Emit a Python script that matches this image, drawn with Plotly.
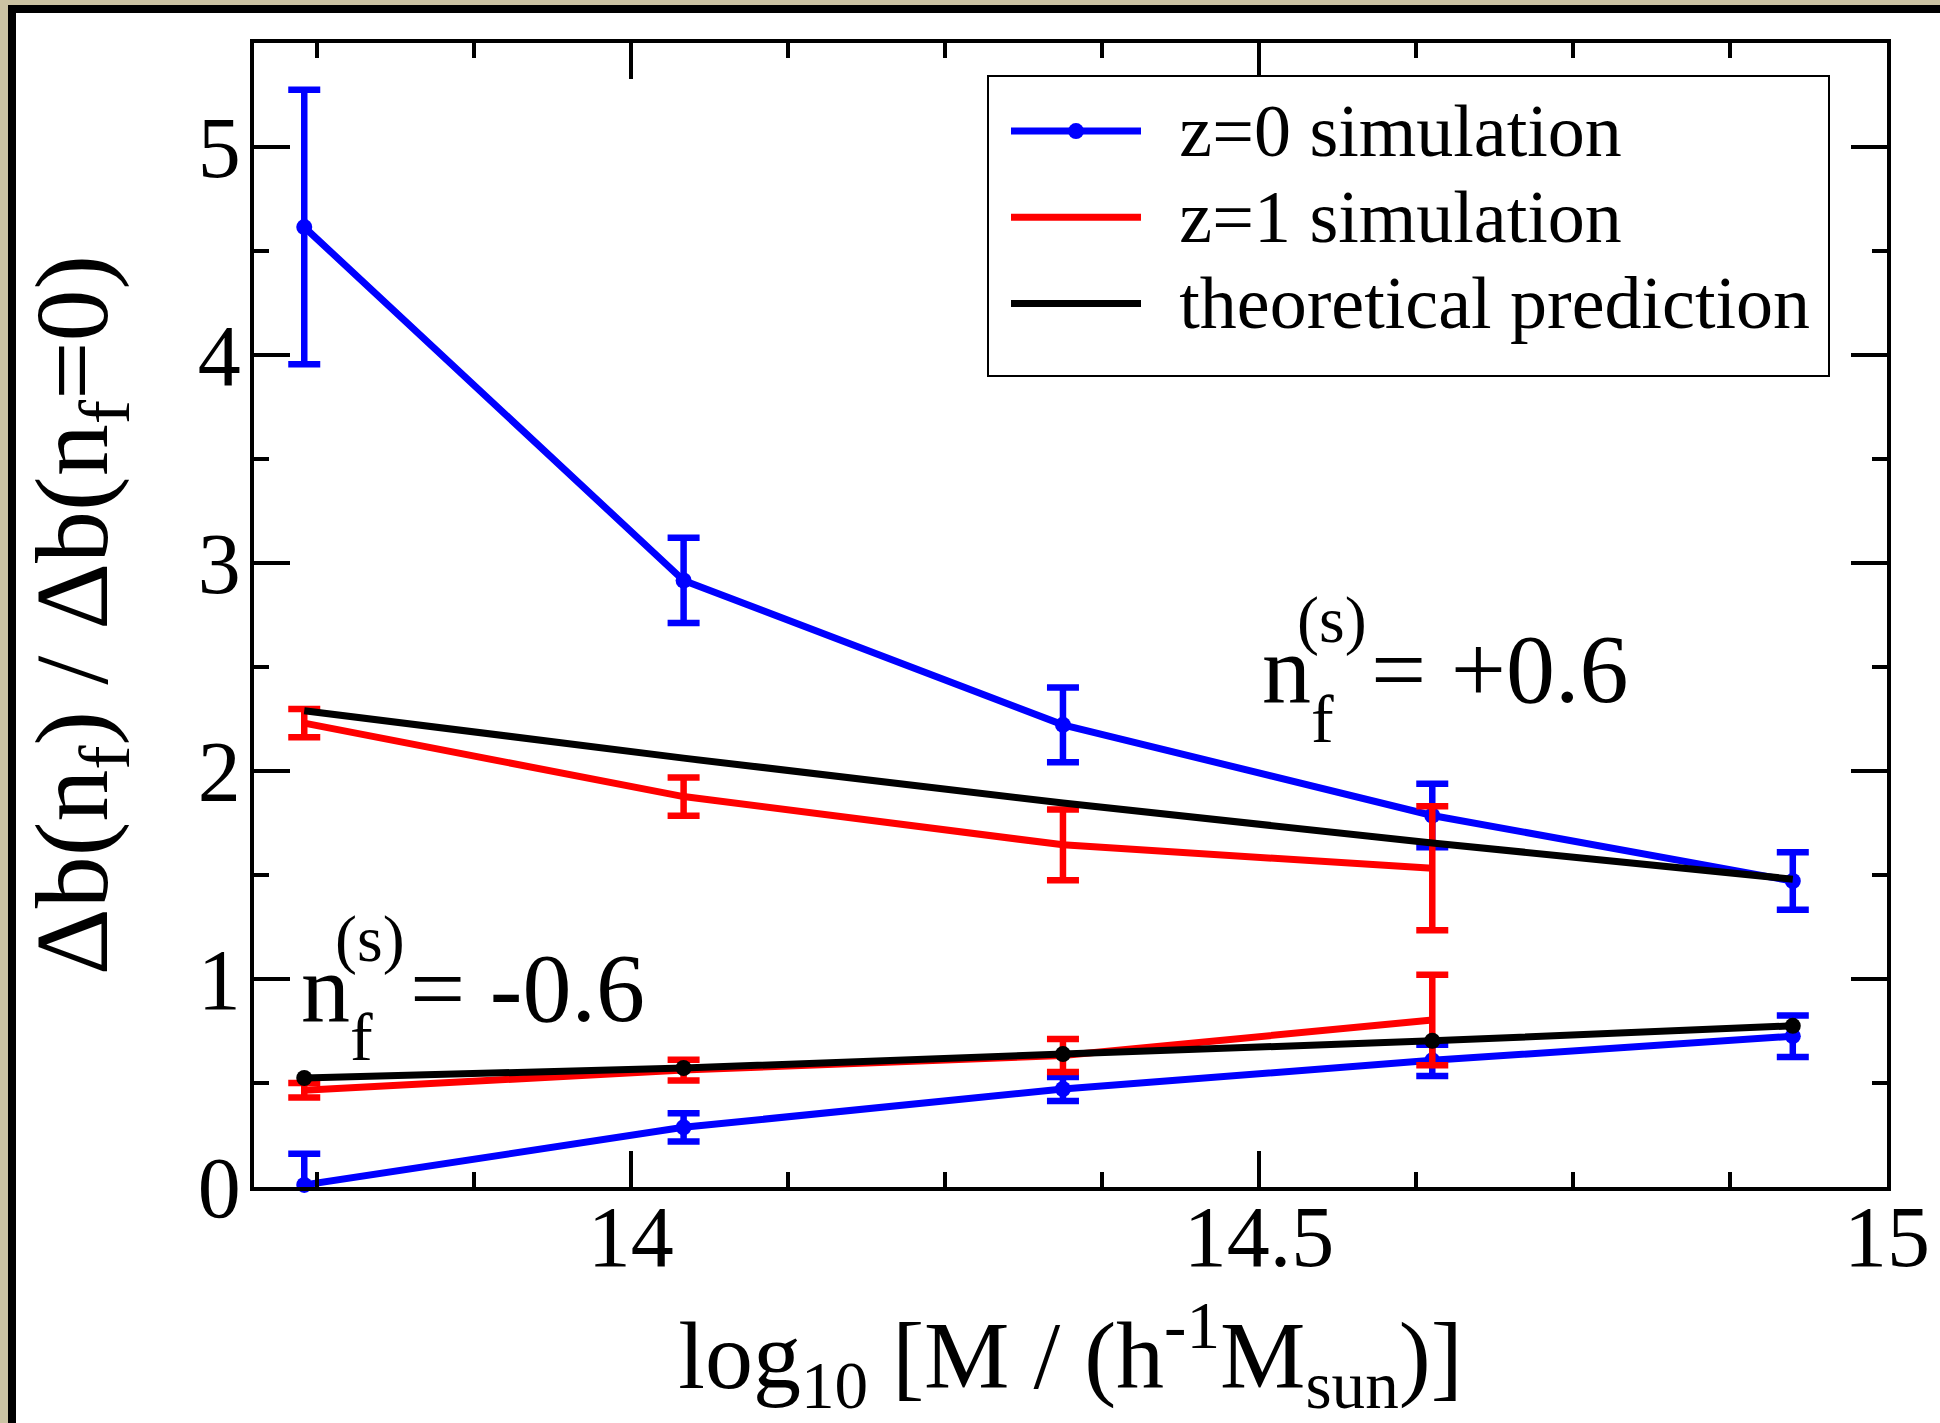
import plotly.graph_objects as go

# ---------------- data ----------------
x_mass = [13.740, 14.042, 14.344, 14.638, 14.925]
x_mass_z1 = [13.740, 14.042, 14.344, 14.638]

z0_pos = [4.615, 2.916, 2.222, 1.786, 1.471]
z0_pos_err = [0.660, 0.205, 0.180, 0.153, 0.138]
z0_neg = [0.010, 0.287, 0.471, 0.609, 0.725]
z0_neg_err = [0.150, 0.068, 0.058, 0.075, 0.100]

z1_pos = [2.230, 1.877, 1.645, 1.532]
z1_pos_err = [0.068, 0.092, 0.170, 0.298]
z1_neg = [0.465, 0.562, 0.632, 0.803]
z1_neg_err = [0.035, 0.050, 0.079, 0.218]

theory_pos = [2.290, 2.062, 1.846, 1.654, 1.480]
theory_neg = [0.524, 0.572, 0.639, 0.703, 0.775]

x_tick_vals = [14, 14.5, 15]
x_tick_text = ["14", "14.5", "15"]
y_tick_vals = [0, 1, 2, 3, 4, 5]
y_tick_text = ["0", "1", "2", "3", "4", "5"]

legend_names = ["z=0 simulation", "z=1 simulation", "theoretical prediction"]

# ---------------- layout helpers ----------------
W, H = 1940, 1423
L, R, T, B = 254, 1887, 43, 1187
FONT = "Liberation Serif"
BLUE, RED, BLACK = "#0000ff", "#ff0000", "#000000"
LW, MS = 7, 16


def px(X):
    return (X - L) / (R - L)


def py(Y):
    return (B - Y) / (B - T)


def leg(name):
    return '<span style="font-size:74px">\u00a0\u2009' + name + '</span>'


fig = go.Figure()

err_common = dict(type="data", thickness=6.5, width=16)

fig.add_trace(go.Scatter(
    x=x_mass, y=z0_pos, mode="lines+markers", name=leg(legend_names[0]),
    line=dict(color=BLUE, width=LW), marker=dict(color=BLUE, size=MS),
    error_y=dict(array=z0_pos_err, color=BLUE, **err_common),
    legendrank=1))
fig.add_trace(go.Scatter(
    x=x_mass, y=z0_neg, mode="lines+markers", name=leg(legend_names[0]),
    line=dict(color=BLUE, width=LW), marker=dict(color=BLUE, size=MS),
    error_y=dict(array=z0_neg_err, color=BLUE, **err_common),
    showlegend=False, cliponaxis=False))
fig.add_trace(go.Scatter(
    x=x_mass_z1, y=z1_pos, mode="lines", name=leg(legend_names[1]),
    line=dict(color=RED, width=LW),
    error_y=dict(array=z1_pos_err, color=RED, **err_common),
    legendrank=2))
fig.add_trace(go.Scatter(
    x=x_mass_z1, y=z1_neg, mode="lines", name=leg(legend_names[1]),
    line=dict(color=RED, width=LW),
    error_y=dict(array=z1_neg_err, color=RED, **err_common),
    showlegend=False))
fig.add_trace(go.Scatter(
    x=x_mass, y=theory_pos, mode="lines", name=leg(legend_names[2]),
    line=dict(color=BLACK, width=LW), legendrank=3))
fig.add_trace(go.Scatter(
    x=x_mass, y=theory_neg, mode="lines+markers", name=leg(legend_names[2]),
    line=dict(color=BLACK, width=LW), marker=dict(color=BLACK, size=MS),
    showlegend=False))

axis_common = dict(
    showline=True, linewidth=4, linecolor="black", mirror="allticks",
    ticks="inside", ticklen=36, tickwidth=3.5, tickcolor="black",
    showgrid=False, zeroline=False,
    tickfont=dict(family=FONT, size=86, color="black"),
)

fig.update_xaxes(
    range=[13.7, 15], tickmode="array", tickvals=x_tick_vals, ticktext=x_tick_text,
    minor=dict(dtick=0.125, tick0=14, ticks="inside", ticklen=15, tickwidth=3.5,
               tickcolor="black", showgrid=False),
    ticklabelstandoff=-28,
    title=dict(text="log<sub>10</sub> [M / (h<sup>-1</sup>M<sub>sun</sub>)]",
               font=dict(family=FONT, size=96, color="black"), standoff=73),
    **axis_common)
fig.update_yaxes(
    range=[0, 5.5], tickmode="array", tickvals=y_tick_vals, ticktext=y_tick_text,
    minor=dict(dtick=0.5, tick0=0, ticks="inside", ticklen=15, tickwidth=3.5,
               tickcolor="black", showgrid=False),
    ticklabelstandoff=-8,
    title=dict(text="Δb(n<sub>f</sub>) / Δb(n<sub>f</sub>=0)",
               font=dict(family=FONT, size=104, color="black"), standoff=56),
    **axis_common)

# outer white panel with black border (decoration)
fig.add_shape(type="rect", xref="paper", yref="paper",
              x0=px(12), x1=px(2000), y0=py(1500), y1=py(9),
              line=dict(color="black", width=8), fillcolor="white", layer="below")
# legend frame (decoration)
fig.add_shape(type="rect", xref="paper", yref="paper",
              x0=px(988), x1=px(1829), y0=py(376), y1=py(76),
              line=dict(color="black", width=2), fillcolor="white", layer="above")


def label(text, left, baseline, size):
    fig.add_annotation(xref="paper", yref="paper", x=px(left), y=py(baseline - 0.3375 * size),
                       xanchor="left", yanchor="middle", showarrow=False, text=text,
                       font=dict(family=FONT, size=size, color="black"))


# n_f^(s) = +0.6
label("n", 1260, 702, 98)
label("f", 1309, 742, 68)
label("(s)", 1295, 642, 66)
label("= +0.6", 1369, 702, 98)
# n_f^(s) = -0.6
label("n", 299, 1021, 98)
label("f", 348, 1060, 68)
label("(s)", 333, 961, 66)
label("= -0.6", 408, 1021, 98)

fig.update_layout(
    width=W, height=H,
    margin=dict(l=L, r=W - R, t=T, b=H - B, autoexpand=False),
    paper_bgcolor="#cbc3a3", plot_bgcolor="white",
    font=dict(family=FONT, color="black"),
    legend=dict(x=px(1006), y=py(83), xanchor="left", yanchor="top",
                bgcolor="rgba(0,0,0,0)", borderwidth=0,
                font=dict(family=FONT, size=64, color="black"),
                itemwidth=130, tracegroupgap=0),
    showlegend=True,
)

fig.write_html("out.html", config={"displayModeBar": False},
               post_script="document.body.style.margin='0px';document.body.style.overflow='hidden';")
